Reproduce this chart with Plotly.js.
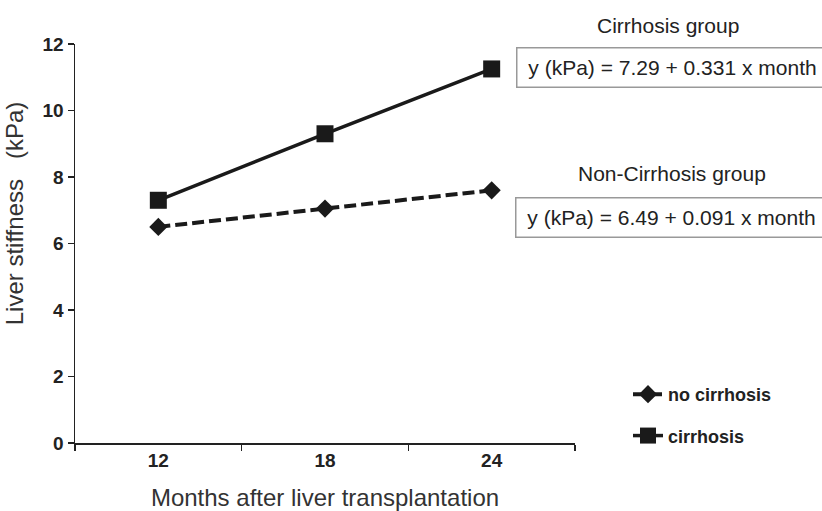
<!DOCTYPE html>
<html>
<head>
<meta charset="utf-8">
<script src="https://cdn.plot.ly/plotly-3.0.1.min.js"></script>
<style>html,body{margin:0;padding:0;background:#fff;}#chart{width:822px;height:511px;}</style>
</head>
<body>
<div id="chart"></div>
<script>
var months = ["12", "18", "24"];
var noCirrhosis = [6.5, 7.05, 7.6];
var cirrhosis = [7.3, 9.3, 11.25];
var yTicks = [0, 2, 4, 6, 8, 10, 12];
var groupLabels = ["Cirrhosis group", "Non-Cirrhosis group"];
var equations = ["y (kPa) = 7.29 + 0.331 x month", "y (kPa) = 6.49 + 0.091 x month"];

var FF = "Liberation Sans, Arial, sans-serif";
var traces = [
  {
    x: months, y: noCirrhosis, name: "no cirrhosis", legendgroup: "a", type: "scatter", mode: "lines+markers",
    line: {color: "#1a1a1a", width: 4, dash: "12px,5px"},
    marker: {symbol: "diamond", size: 14, color: "#1a1a1a"}
  },
  {
    x: months, y: cirrhosis, name: "cirrhosis", legendgroup: "b", type: "scatter", mode: "lines+markers",
    line: {color: "#1a1a1a", width: 3.5},
    marker: {symbol: "square", size: 17, color: "#1a1a1a"}
  }
];

var pad = "&nbsp;".repeat(9);
var layout = {
  width: 822, height: 511,
  margin: {l: 75, r: 247, t: 44, b: 68},
  paper_bgcolor: "#fff", plot_bgcolor: "#fff",
  font: {family: FF, color: "#222"},
  showlegend: true,
  legend: {
    x: 1.106, y: 0.168, xanchor: "left", yanchor: "top",
    font: {family: FF, size: 18, color: "#222", weight: "bold"},
    tracegroupgap: 15, bgcolor: "rgba(0,0,0,0)"
  },
  xaxis: {
    type: "category", range: [-0.5, 2.5], tickson: "boundaries",
    showline: true, linecolor: "#222", linewidth: 1.5,
    ticks: "outside", ticklen: 6, tickcolor: "#222", tickwidth: 1.5,
    showgrid: false, zeroline: false,
    tickfont: {family: FF, size: 19, color: "#222", weight: "bold"},
    title: {text: "Months after liver transplantation", font: {family: FF, size: 24, color: "#333"}, standoff: 19}
  },
  yaxis: {
    range: [0, 12], tickvals: yTicks, ticktext: yTicks.map(String),
    showline: true, linecolor: "#222", linewidth: 1.5,
    ticks: "outside", ticklen: 6, tickcolor: "#222", tickwidth: 1.5,
    showgrid: false, zeroline: false,
    tickfont: {family: FF, size: 19, color: "#222", weight: "bold"},
    title: {text: pad + "Liver stiffness&nbsp;&nbsp;&nbsp;(kPa)", font: {family: FF, size: 24, color: "#333"}, standoff: 12}
  },
  annotations: [
    {xref: "paper", yref: "paper", x: 1.186, y: 1.047, xanchor: "center", yanchor: "middle", showarrow: false,
     text: groupLabels[0], font: {family: FF, size: 21, color: "#222"}},
    {xref: "paper", yref: "paper", x: 0.882, y: 0.942, xanchor: "left", yanchor: "middle", showarrow: false,
     text: "&nbsp;" + equations[0], align: "left", width: 310, height: 28, borderpad: 5,
     bordercolor: "#999", borderwidth: 1.5, bgcolor: "#fff",
     font: {family: FF, size: 21, color: "#222"}},
    {xref: "paper", yref: "paper", x: 1.194, y: 0.676, xanchor: "center", yanchor: "middle", showarrow: false,
     text: groupLabels[1], font: {family: FF, size: 21, color: "#222"}},
    {xref: "paper", yref: "paper", x: 0.880, y: 0.566, xanchor: "left", yanchor: "middle", showarrow: false,
     text: "&nbsp;" + equations[1], align: "left", width: 310, height: 28, borderpad: 5,
     bordercolor: "#999", borderwidth: 1.5, bgcolor: "#fff",
     font: {family: FF, size: 21, color: "#222"}}
  ]
};

Plotly.newPlot("chart", traces, layout, {displayModeBar: false, staticPlot: true});
</script>
</body>
</html>
